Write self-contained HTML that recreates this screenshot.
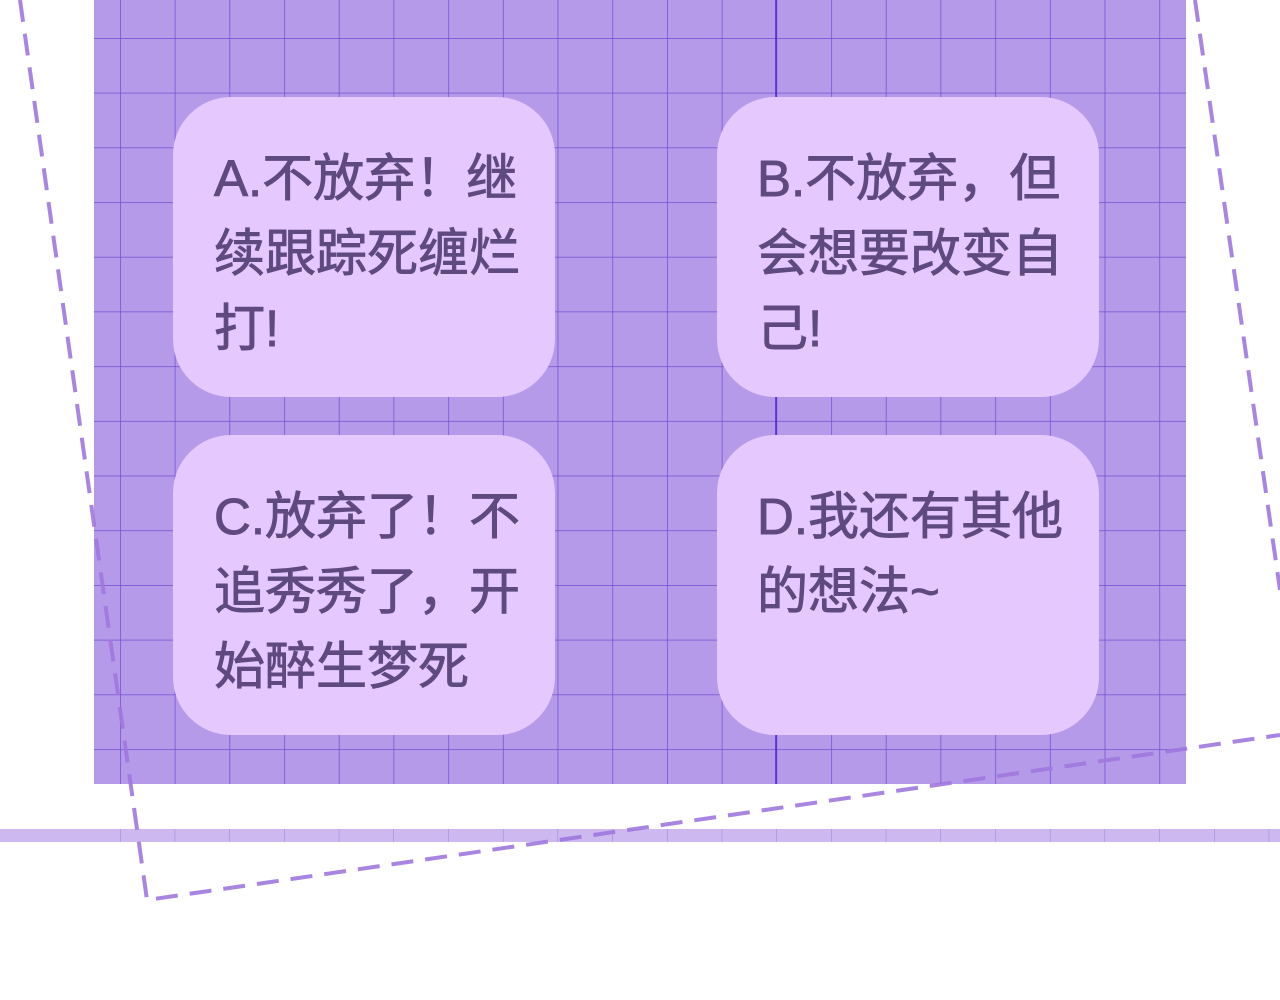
<!DOCTYPE html>
<html><head><meta charset="utf-8"><style>
html,body{margin:0;padding:0;background:#fff;}
svg{display:block}
text{font-family:"Liberation Sans","Noto Sans CJK SC",sans-serif;font-size:51px;fill:#5f4a80;stroke:#5f4a80;stroke-width:0.9px;}
</style></head><body>
<svg width="1280" height="1000" viewBox="0 0 1280 1000" xmlns="http://www.w3.org/2000/svg">
<defs>
<pattern id="g" x="120" y="38" width="54.7" height="54.7" patternUnits="userSpaceOnUse">
<path d="M0 0V54.7M0 0H54.7" stroke="#5a35c8" stroke-opacity="0.75" stroke-width="1.5" fill="none"/>
</pattern>
<pattern id="g2" x="120" y="0" width="54.7" height="20" patternUnits="userSpaceOnUse">
<path d="M0 0V20" stroke="#9a80d8" stroke-width="1" fill="none"/>
</pattern>
</defs>
<rect x="94" y="0" width="1092" height="784" fill="#b69aea"/>
<rect x="94" y="0" width="1092" height="784" fill="url(#g)"/>
<line x1="776" y1="0" x2="776" y2="784" stroke="#4a20d0" stroke-width="1.8" stroke-opacity="0.8"/>
<rect x="0" y="829" width="1280" height="13" fill="#cdb9f0"/>
<rect x="94" y="829" width="1186" height="13" fill="url(#g2)"/>
<g fill="none" stroke="#9f78de" stroke-width="4" stroke-dasharray="22 12" stroke-opacity="0.9">
<path d="M20 0 L147 900 L1280 735"/>
<path d="M1195 0 L1280 590"/>
</g>
<g fill="#e4c8fe">
<rect x="173" y="97" width="382" height="300" rx="58"/>
<rect x="717" y="97" width="382" height="300" rx="58"/>
<rect x="173" y="435" width="382" height="300" rx="58"/>
<rect x="717" y="435" width="382" height="300" rx="58"/>
</g>
<text x="214" y="196">A.不放弃！继</text>
<text x="214" y="271">续跟踪死缠烂</text>
<text x="214" y="346">打!</text>
<text x="757" y="196">B.不放弃，但</text>
<text x="757" y="271">会想要改变自</text>
<text x="757" y="346">己!</text>
<text x="214" y="534">C.放弃了！不</text>
<text x="214" y="609">追秀秀了，开</text>
<text x="214" y="684">始醉生梦死</text>
<text x="757" y="534">D.我还有其他</text>
<text x="757" y="609">的想法~</text>
</svg>
</body></html>
